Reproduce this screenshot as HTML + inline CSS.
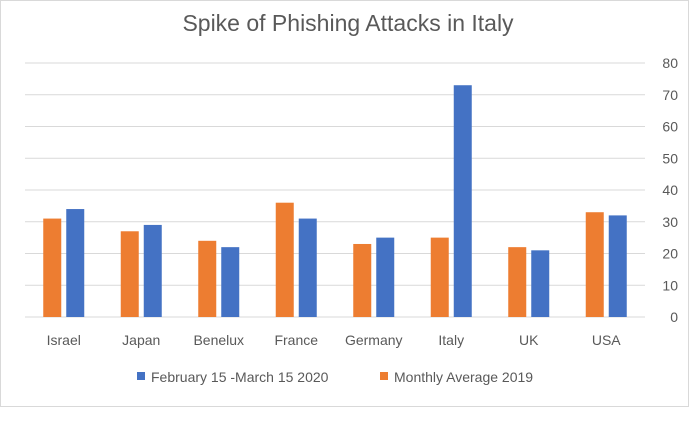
<!DOCTYPE html>
<html><head><meta charset="utf-8"><style>
body{margin:0;background:#fff;}
svg text{font-family:"Liberation Sans",sans-serif;fill:#595959;}
</style></head><body>
<svg width="697" height="416">
<rect x="0.5" y="0.5" width="688" height="406" fill="#fff" stroke="#d9d9d9"/>
<text x="348" y="31" font-size="23" text-anchor="middle">Spike of Phishing Attacks in Italy</text>
<g id="grid"></g><g id="bars"></g><g id="labels"></g>
<rect x="137" y="372" width="8" height="8" fill="#4472c4"/>
<text x="151" y="382" font-size="14">February 15 -March 15 2020</text>
<rect x="380" y="372" width="8" height="8" fill="#ed7d31"/>
<text x="394" y="382" font-size="14">Monthly Average 2019</text>
</svg>
<script>
const categories=["Israel","Japan","Benelux","France","Germany","Italy","UK","USA"];
const avg2019=[31,27,24,36,23,25,22,33];
const spike2020=[34,29,22,31,25,73,21,32];
const ticks=[0,10,20,30,40,50,60,70,80];
const NS="http://www.w3.org/2000/svg";
const x0=25,x1=645,y0=317,y1=63,maxV=80;
const yS=v=>y0-(v/maxV)*(y0-y1);
const cw=(x1-x0)/categories.length;
function mk(t,a,p){const e=document.createElementNS(NS,t);for(const k in a)e.setAttribute(k,a[k]);p.appendChild(e);return e;}
const g=document.getElementById('grid');
ticks.forEach(t=>{
  const l=mk('line',{x1:x0,x2:x1,y1:yS(t),y2:yS(t),stroke:'#d9d9d9','stroke-width':1},g);
  
  
  const tx=mk('text',{x:678,y:yS(t)+5,'font-size':14,'text-anchor':'end'},g);
  tx.textContent=t;
  
  
});
const b=document.getElementById('bars'),lb=document.getElementById('labels');
categories.forEach((c,i)=>{
  const cx=x0+cw*(i+0.5);
  const r1=mk('rect',{x:cx-20.5,y:yS(avg2019[i]),width:18,height:y0-yS(avg2019[i]),fill:'#ed7d31'},b);
  
  
  const r2=mk('rect',{x:cx+2.5,y:yS(spike2020[i]),width:18,height:y0-yS(spike2020[i]),fill:'#4472c4'},b);
  
  
  const t=mk('text',{x:cx,y:345,'font-size':14,'text-anchor':'middle'},lb);
  t.textContent=c;
  
  
});
</script>
</body></html>
